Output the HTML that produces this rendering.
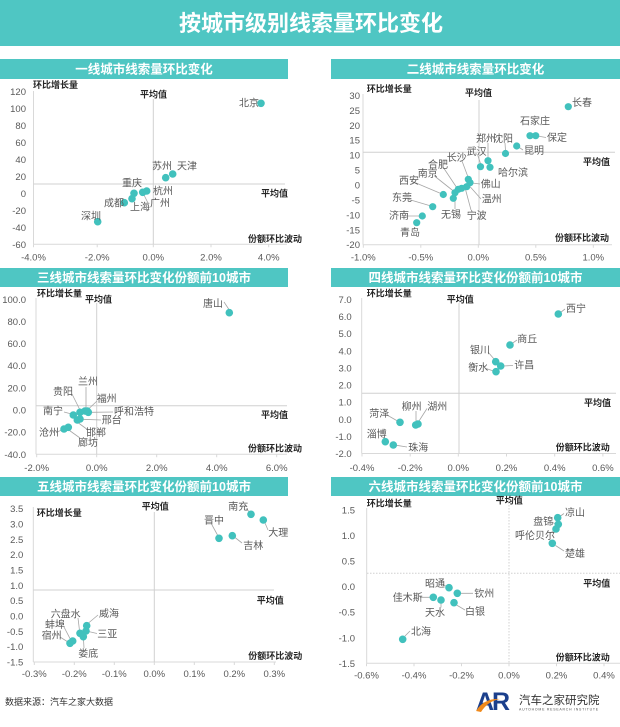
<!DOCTYPE html>
<html><head><meta charset="utf-8"><style>
html,body{margin:0;padding:0;background:#fff;}
svg{display:block;font-family:"Liberation Sans","Noto Sans CJK SC",sans-serif;}
.t{font-size:10px;fill:#595959;}
.tk{font-size:9.5px;fill:#595959;}
.tkr{font-size:9.5px;fill:#595959;text-anchor:end;}
.tkm{font-size:9.5px;fill:#595959;text-anchor:middle;}
.ax{font-size:9px;font-weight:bold;fill:#262626;}
.pt{fill:#41c1bd;}
.ld{stroke:#a6a6a6;stroke-width:0.8;fill:none;}
.al{stroke:#d9d9d9;stroke-width:1;fill:none;}
.av{stroke:#d0d0d0;stroke-width:1;fill:none;}
.bar{fill:#4fc6c3;}
.bt{font-size:12.5px;font-weight:bold;fill:#fff;text-anchor:middle;}
</style></head><body>
<svg width="620" height="727" viewBox="0 0 620 727" xmlns="http://www.w3.org/2000/svg">
<rect x="0" y="0" width="620" height="46" class="bar"/>
<text x="311" y="31" style="font-size:22px;font-weight:bold;fill:#fff;text-anchor:middle;">按城市级别线索量环比变化</text>

<!-- panel bars -->
<rect x="0" y="59" width="288" height="20" class="bar"/>
<text x="144" y="73.5" class="bt">一线城市线索量环比变化</text>
<rect x="331" y="59" width="289" height="20" class="bar"/>
<text x="475.5" y="73.5" class="bt">二线城市线索量环比变化</text>
<rect x="0" y="268" width="288" height="19" class="bar"/>
<text x="144" y="282" class="bt">三线城市线索量环比变化份额前10城市</text>
<rect x="331" y="268" width="289" height="19" class="bar"/>
<text x="475.5" y="282" class="bt">四线城市线索量环比变化份额前10城市</text>
<rect x="0" y="477" width="288" height="19" class="bar"/>
<text x="144" y="491" class="bt">五线城市线索量环比变化份额前10城市</text>
<rect x="331" y="477" width="289" height="19" class="bar"/>
<text x="475.5" y="491" class="bt">六线城市线索量环比变化份额前10城市</text>

<!-- ============ Chart 1 ============ -->
<g>
<line x1="33.5" y1="91" x2="33.5" y2="244.3" class="al"/>
<line x1="33.5" y1="244.3" x2="287" y2="244.3" class="al"/>
<path d="M33.5 244.3v3M97.2 244.3v3M153.3 244.3v3M211 244.3v3M268.7 244.3v3" class="al"/>
<line x1="153.3" y1="99" x2="153.3" y2="244.3" class="av"/>
<line x1="33.5" y1="184" x2="285" y2="184" class="av"/>
<text x="26" y="94.8" class="tkr">120</text>
<text x="26" y="111.8" class="tkr">100</text>
<text x="26" y="128.8" class="tkr">80</text>
<text x="26" y="145.8" class="tkr">60</text>
<text x="26" y="162.8" class="tkr">40</text>
<text x="26" y="179.8" class="tkr">20</text>
<text x="26" y="196.8" class="tkr">0</text>
<text x="26" y="213.8" class="tkr">-20</text>
<text x="26" y="230.8" class="tkr">-40</text>
<text x="26" y="247.8" class="tkr">-60</text>
<text x="33.5" y="260.5" class="tkm">-4.0%</text>
<text x="97.2" y="260.5" class="tkm">-2.0%</text>
<text x="153.3" y="260.5" class="tkm">0.0%</text>
<text x="211" y="260.5" class="tkm">2.0%</text>
<text x="268.7" y="260.5" class="tkm">4.0%</text>
<text x="33" y="88" class="ax">环比增长量</text>
<text x="140" y="97.5" class="ax">平均值</text>
<text x="261" y="196.5" class="ax">平均值</text>
<text x="248" y="242" class="ax">份额环比波动</text>
<path d="M131 200.5 L132 199 M148 203 L143.5 194" class="ld"/>
<circle cx="261" cy="103.3" r="3.8" class="pt"/>
<circle cx="172.7" cy="174" r="3.8" class="pt"/>
<circle cx="165.7" cy="177.7" r="3.8" class="pt"/>
<circle cx="146.7" cy="191" r="3.8" class="pt"/>
<circle cx="142.7" cy="192.3" r="3.8" class="pt"/>
<circle cx="134" cy="193.3" r="3.8" class="pt"/>
<circle cx="132" cy="198.7" r="3.8" class="pt"/>
<circle cx="124.3" cy="202.7" r="3.8" class="pt"/>
<circle cx="97.7" cy="221.7" r="3.8" class="pt"/>
<text x="239" y="106.5" class="t">北京</text>
<text x="177" y="169.5" class="t">天津</text>
<text x="152" y="169.5" class="t">苏州</text>
<text x="153" y="194.5" class="t">杭州</text>
<text x="122" y="186.5" class="t">重庆</text>
<text x="130" y="210.5" class="t">上海</text>
<text x="150" y="206.5" class="t">广州</text>
<text x="104" y="206.5" class="t">成都</text>
<text x="81" y="219.5" class="t">深圳</text>
</g>

<!-- ============ Chart 2 ============ -->
<g>
<line x1="363" y1="94" x2="363" y2="244.7" class="al"/>
<line x1="363" y1="244.7" x2="612" y2="244.7" class="al"/>
<path d="M363.3 244.7v3M420.8 244.7v3M478.3 244.7v3M535.8 244.7v3M593.3 244.7v3" class="al"/>
<line x1="479" y1="100" x2="479" y2="244.7" class="av"/>
<line x1="363" y1="152.3" x2="615" y2="152.3" class="av"/>
<text x="360" y="98.9" class="tkr">30</text>
<text x="360" y="113.8" class="tkr">25</text>
<text x="360" y="128.8" class="tkr">20</text>
<text x="360" y="143.7" class="tkr">15</text>
<text x="360" y="158.6" class="tkr">10</text>
<text x="360" y="173.6" class="tkr">5</text>
<text x="360" y="188.5" class="tkr">0</text>
<text x="360" y="203.4" class="tkr">-5</text>
<text x="360" y="218.4" class="tkr">-10</text>
<text x="360" y="233.3" class="tkr">-15</text>
<text x="360" y="248.2" class="tkr">-20</text>
<text x="363.3" y="260.5" class="tkm">-1.0%</text>
<text x="420.8" y="260.5" class="tkm">-0.5%</text>
<text x="478.3" y="260.5" class="tkm">0.0%</text>
<text x="535.8" y="260.5" class="tkm">0.5%</text>
<text x="593.3" y="260.5" class="tkm">1.0%</text>
<text x="366.7" y="92" class="ax">环比增长量</text>
<text x="465" y="96" class="ax">平均值</text>
<text x="583" y="165" class="ax">平均值</text>
<text x="555" y="241" class="ax">份额环比波动</text>
<path d="M537.5 136 L546 137.5 M517 146 L523 150 M488 143 L488 157.5 M505 143 L505.5 150.5 M478 156 L480.5 163.5 M462 161 L468 177 M443 167 L457 188 M434.5 176 L454 191.5 M416 183 L442 194 M409 199.5 L431 206 M406 216 L419 216 M455 209 L455 196 M471 210 L465.5 189.5 M481 199 L469.5 186 M480 184 L472 183" class="ld"/>
<circle cx="568.3" cy="106.7" r="3.6" class="pt"/>
<circle cx="530" cy="135.7" r="3.6" class="pt"/>
<circle cx="535.7" cy="135.7" r="3.6" class="pt"/>
<circle cx="516.7" cy="146" r="3.6" class="pt"/>
<circle cx="505.5" cy="153.5" r="3.6" class="pt"/>
<circle cx="488" cy="160.7" r="3.6" class="pt"/>
<circle cx="490" cy="167.3" r="3.6" class="pt"/>
<circle cx="480.5" cy="166.7" r="3.6" class="pt"/>
<circle cx="468.3" cy="179.3" r="3.6" class="pt"/>
<circle cx="470" cy="182.7" r="3.6" class="pt"/>
<circle cx="466.7" cy="186.7" r="3.6" class="pt"/>
<circle cx="461.7" cy="188.3" r="3.6" class="pt"/>
<circle cx="458.3" cy="189.3" r="3.6" class="pt"/>
<circle cx="455" cy="192.7" r="3.6" class="pt"/>
<circle cx="453.3" cy="198.3" r="3.6" class="pt"/>
<circle cx="443.3" cy="194.5" r="3.6" class="pt"/>
<circle cx="432.7" cy="206.7" r="3.6" class="pt"/>
<circle cx="422.3" cy="216" r="3.6" class="pt"/>
<circle cx="416.7" cy="222.7" r="3.6" class="pt"/>
<text x="572" y="106.2" class="t">长春</text>
<text x="520" y="124.5" class="t">石家庄</text>
<text x="547" y="141.2" class="t">保定</text>
<text x="524" y="154.2" class="t">昆明</text>
<text x="493" y="141.8" class="t">沈阳</text>
<text x="476" y="141.8" class="t">郑州</text>
<text x="498" y="175.8" class="t">哈尔滨</text>
<text x="466.7" y="155.2" class="t">武汉</text>
<text x="446.7" y="161.2" class="t">长沙</text>
<text x="428" y="167.8" class="t">合肥</text>
<text x="417.7" y="176.8" class="t">南京</text>
<text x="399" y="184.2" class="t">西安</text>
<text x="392" y="201.2" class="t">东莞</text>
<text x="389" y="219.2" class="t">济南</text>
<text x="400" y="236.2" class="t">青岛</text>
<text x="441" y="217.8" class="t">无锡</text>
<text x="466.7" y="219.2" class="t">宁波</text>
<text x="481.7" y="202.5" class="t">温州</text>
<text x="480.7" y="187.5" class="t">佛山</text>
</g>

<!-- ============ Chart 3 ============ -->
<g>
<line x1="36" y1="298" x2="36" y2="454.3" class="al"/>
<line x1="36" y1="454.3" x2="287" y2="454.3" class="al"/>
<path d="M36.7 454.3v3M96.7 454.3v3M156.7 454.3v3M216.7 454.3v3M276.7 454.3v3" class="al"/>
<line x1="96.7" y1="303" x2="96.7" y2="454.3" class="av"/>
<line x1="36" y1="405.7" x2="287" y2="405.7" class="av"/>
<text x="26" y="302.8" class="tkr">100.0</text>
<text x="26" y="324.9" class="tkr">80.0</text>
<text x="26" y="347.1" class="tkr">60.0</text>
<text x="26" y="369.2" class="tkr">40.0</text>
<text x="26" y="391.4" class="tkr">20.0</text>
<text x="26" y="413.5" class="tkr">0.0</text>
<text x="26" y="435.6" class="tkr">-20.0</text>
<text x="26" y="457.8" class="tkr">-40.0</text>
<text x="36.7" y="471" class="tkm">-2.0%</text>
<text x="96.7" y="471" class="tkm">0.0%</text>
<text x="156.7" y="471" class="tkm">2.0%</text>
<text x="216.7" y="471" class="tkm">4.0%</text>
<text x="276.7" y="471" class="tkm">6.0%</text>
<text x="37" y="296.5" class="ax">环比增长量</text>
<text x="85" y="302.5" class="ax">平均值</text>
<text x="261" y="418" class="ax">平均值</text>
<text x="248" y="451.5" class="ax">份额环比波动</text>
<path d="M224 302 L229 309.5 M86 387 L86 408 M72 394 L79.5 409 M97 401 L89 408.5 M113 412 L91 412.3 M64 412 L71.5 414 M101 420 L82.5 419.3 M88 430 L78.5 423 M57 432 L62 430 M80 438 L69.5 430.5" class="ld"/>
<circle cx="229.3" cy="312.7" r="3.8" class="pt"/>
<circle cx="73.3" cy="415" r="3.8" class="pt"/>
<circle cx="80" cy="412.3" r="3.8" class="pt"/>
<circle cx="85" cy="411" r="3.8" class="pt"/>
<circle cx="87.3" cy="411" r="3.8" class="pt"/>
<circle cx="88.3" cy="412.3" r="3.8" class="pt"/>
<circle cx="77.3" cy="420" r="3.8" class="pt"/>
<circle cx="80" cy="419" r="3.8" class="pt"/>
<circle cx="64" cy="429" r="3.8" class="pt"/>
<circle cx="68.3" cy="427.3" r="3.8" class="pt"/>
<text x="203" y="306.8" class="t">唐山</text>
<text x="78" y="385.2" class="t">兰州</text>
<text x="53" y="395.2" class="t">贵阳</text>
<text x="96.7" y="401.8" class="t">福州</text>
<text x="114" y="415.2" class="t">呼和浩特</text>
<text x="43" y="414.5" class="t">南宁</text>
<text x="101.7" y="423.5" class="t">邢台</text>
<text x="39" y="436.2" class="t">沧州</text>
<text x="86" y="436.2" class="t">邯郸</text>
<text x="78" y="445.8" class="t">廊坊</text>
</g>

<!-- ============ Chart 4 ============ -->
<g>
<line x1="361.7" y1="298" x2="361.7" y2="453.5" class="al"/>
<line x1="361.7" y1="453.5" x2="616" y2="453.5" class="al"/>
<path d="M362 453.5v3M410.2 453.5v3M458.3 453.5v3M506.5 453.5v3M554.7 453.5v3M602.9 453.5v3" class="al"/>
<line x1="459" y1="303" x2="459" y2="453.5" class="av"/>
<line x1="362" y1="393.3" x2="616" y2="393.3" class="av"/>
<text x="351.7" y="303" class="tkr">7.0</text>
<text x="351.7" y="320.1" class="tkr">6.0</text>
<text x="351.7" y="337.2" class="tkr">5.0</text>
<text x="351.7" y="354.3" class="tkr">4.0</text>
<text x="351.7" y="371.4" class="tkr">3.0</text>
<text x="351.7" y="388.6" class="tkr">2.0</text>
<text x="351.7" y="405.7" class="tkr">1.0</text>
<text x="351.7" y="422.8" class="tkr">0.0</text>
<text x="351.7" y="439.9" class="tkr">-1.0</text>
<text x="351.7" y="457" class="tkr">-2.0</text>
<text x="362" y="471" class="tkm">-0.4%</text>
<text x="410.2" y="471" class="tkm">-0.2%</text>
<text x="458.3" y="471" class="tkm">0.0%</text>
<text x="506.5" y="471" class="tkm">0.2%</text>
<text x="554.7" y="471" class="tkm">0.4%</text>
<text x="602.9" y="471" class="tkm">0.6%</text>
<text x="366.7" y="296.5" class="ax">环比增长量</text>
<text x="446.7" y="302.5" class="ax">平均值</text>
<text x="584" y="406" class="ax">平均值</text>
<text x="555.7" y="450.5" class="ax">份额环比波动</text>
<path d="M565 309 L560.5 312.5 M517 340 L512 343.5 M488 352 L494 359 M513 365.5 L503.5 366 M486 368.5 L493.5 371 M387 415 L397.5 421 M416 411 L416 421.5 M427 408.5 L419 421 M407 447 L396.5 445.3" class="ld"/>
<circle cx="558.3" cy="314" r="3.8" class="pt"/>
<circle cx="510" cy="345" r="3.8" class="pt"/>
<circle cx="495.7" cy="361.7" r="3.8" class="pt"/>
<circle cx="500.7" cy="366" r="3.8" class="pt"/>
<circle cx="496" cy="371.7" r="3.8" class="pt"/>
<circle cx="400" cy="422.3" r="3.8" class="pt"/>
<circle cx="415.7" cy="425" r="3.8" class="pt"/>
<circle cx="418" cy="424" r="3.8" class="pt"/>
<circle cx="385.3" cy="441.7" r="3.8" class="pt"/>
<circle cx="393.3" cy="445" r="3.8" class="pt"/>
<text x="566" y="311.8" class="t">西宁</text>
<text x="517.3" y="342.5" class="t">商丘</text>
<text x="470" y="353.5" class="t">银川</text>
<text x="514.3" y="368.5" class="t">许昌</text>
<text x="468.3" y="371.2" class="t">衡水</text>
<text x="369.3" y="416.8" class="t">菏泽</text>
<text x="401.7" y="410.2" class="t">柳州</text>
<text x="427.3" y="410.2" class="t">湖州</text>
<text x="366.7" y="437.5" class="t">淄博</text>
<text x="408.3" y="450.8" class="t">珠海</text>
</g>

<!-- ============ Chart 5 ============ -->
<g>
<line x1="33.3" y1="507" x2="33.3" y2="662" class="al"/>
<line x1="33.3" y1="662" x2="276" y2="662" class="al"/>
<path d="M34.3 662v3M74.3 662v3M114.3 662v3M154.3 662v3M194.3 662v3M234.3 662v3M274.3 662v3" class="al"/>
<line x1="154.3" y1="512" x2="154.3" y2="662" class="av"/>
<line x1="33.3" y1="590" x2="274" y2="590" class="av"/>
<text x="23.3" y="512.2" class="tkr">3.5</text>
<text x="23.3" y="527.5" class="tkr">3.0</text>
<text x="23.3" y="542.8" class="tkr">2.5</text>
<text x="23.3" y="558.2" class="tkr">2.0</text>
<text x="23.3" y="573.5" class="tkr">1.5</text>
<text x="23.3" y="588.8" class="tkr">1.0</text>
<text x="23.3" y="604.2" class="tkr">0.5</text>
<text x="23.3" y="619.5" class="tkr">0.0</text>
<text x="23.3" y="634.8" class="tkr">-0.5</text>
<text x="23.3" y="650.2" class="tkr">-1.0</text>
<text x="23.3" y="665.5" class="tkr">-1.5</text>
<text x="34.3" y="677" class="tkm">-0.3%</text>
<text x="74.3" y="677" class="tkm">-0.2%</text>
<text x="114.3" y="677" class="tkm">-0.1%</text>
<text x="154.3" y="677" class="tkm">0.0%</text>
<text x="194.3" y="677" class="tkm">0.1%</text>
<text x="234.3" y="677" class="tkm">0.2%</text>
<text x="274.3" y="677" class="tkm">0.3%</text>
<text x="36.7" y="516" class="ax">环比增长量</text>
<text x="141.7" y="509.5" class="ax">平均值</text>
<text x="256.7" y="603.5" class="ax">平均值</text>
<text x="248.3" y="659" class="ax">份额环比波动</text>
<path d="M246 508.5 L249.5 512 M268 530 L265 523 M212 525 L217.5 535 M242 543 L235 537.5 M98 615 L88.5 623 M97 633.5 L88.5 631.5 M78 618 L79.5 630.5 M64 627 L70.5 639.5 M60 637 L68 642 M84 648 L83.5 639.5" class="ld"/>
<circle cx="251" cy="514.3" r="3.8" class="pt"/>
<circle cx="263.3" cy="520" r="3.8" class="pt"/>
<circle cx="219" cy="538.3" r="3.8" class="pt"/>
<circle cx="232.3" cy="535.7" r="3.8" class="pt"/>
<circle cx="86.7" cy="625.7" r="3.8" class="pt"/>
<circle cx="86" cy="631" r="3.8" class="pt"/>
<circle cx="80" cy="633.3" r="3.8" class="pt"/>
<circle cx="83.3" cy="636.7" r="3.8" class="pt"/>
<circle cx="72.7" cy="641" r="3.8" class="pt"/>
<circle cx="70" cy="643.3" r="3.8" class="pt"/>
<text x="228.3" y="510.2" class="t">南充</text>
<text x="268.3" y="536.2" class="t">大理</text>
<text x="204" y="524.2" class="t">晋中</text>
<text x="243.3" y="549.2" class="t">吉林</text>
<text x="99" y="616.8" class="t">威海</text>
<text x="97.3" y="637.5" class="t">三亚</text>
<text x="50.7" y="617.5" class="t">六盘水</text>
<text x="45" y="627.8" class="t">蚌埠</text>
<text x="41.7" y="639.2" class="t">宿州</text>
<text x="78.3" y="656.8" class="t">娄底</text>
</g>

<!-- ============ Chart 6 ============ -->
<g>
<line x1="366.7" y1="508" x2="366.7" y2="663.3" class="al"/>
<line x1="366.7" y1="663.3" x2="620" y2="663.3" class="al"/>
<path d="M366.5 663.3v3M414 663.3v3M461.5 663.3v3M509 663.3v3M556.5 663.3v3M604 663.3v3" class="al"/>
<line x1="509" y1="505" x2="509" y2="663.3" class="av" stroke-dasharray="1.5,1.5"/>
<line x1="367" y1="573.3" x2="620" y2="573.3" class="av" stroke-dasharray="1.5,1.5"/>
<text x="355" y="513.5" class="tkr">1.5</text>
<text x="355" y="539.1" class="tkr">1.0</text>
<text x="355" y="564.6" class="tkr">0.5</text>
<text x="355" y="590.2" class="tkr">0.0</text>
<text x="355" y="615.7" class="tkr">-0.5</text>
<text x="355" y="641.3" class="tkr">-1.0</text>
<text x="355" y="666.8" class="tkr">-1.5</text>
<text x="366.5" y="678.5" class="tkm">-0.6%</text>
<text x="414" y="678.5" class="tkm">-0.4%</text>
<text x="461.5" y="678.5" class="tkm">-0.2%</text>
<text x="509" y="678.5" class="tkm">0.0%</text>
<text x="556.5" y="678.5" class="tkm">0.2%</text>
<text x="604" y="678.5" class="tkm">0.4%</text>
<text x="366.7" y="506.5" class="ax">环比增长量</text>
<text x="495.7" y="503.5" class="ax">平均值</text>
<text x="583.3" y="586.5" class="ax">平均值</text>
<text x="555.7" y="660.5" class="ax">份额环比波动</text>
<path d="M564 513.5 L560.5 516 M551 522 L555 523.5 M550 533.5 L553.5 530.5 M564 551 L555.5 545.5 M443 584.5 L446.5 586.5 M473 593.3 L460.5 593.3 M420 597.3 L430 597.3 M441 607.5 L441 603.5 M465 610 L456.5 605 M410 631 L405 636" class="ld"/>
<circle cx="557.7" cy="517.7" r="3.8" class="pt"/>
<circle cx="558.3" cy="524.3" r="3.8" class="pt"/>
<circle cx="556" cy="529" r="3.8" class="pt"/>
<circle cx="552.3" cy="543.3" r="3.8" class="pt"/>
<circle cx="449" cy="587.7" r="3.8" class="pt"/>
<circle cx="457.3" cy="593.3" r="3.8" class="pt"/>
<circle cx="433.3" cy="597.3" r="3.8" class="pt"/>
<circle cx="441" cy="600" r="3.8" class="pt"/>
<circle cx="454" cy="602.7" r="3.8" class="pt"/>
<circle cx="402.7" cy="639.3" r="3.8" class="pt"/>
<text x="565" y="516.2" class="t">凉山</text>
<text x="533.3" y="525.2" class="t">盘锦</text>
<text x="515" y="539.2" class="t">呼伦贝尔</text>
<text x="565" y="556.8" class="t">楚雄</text>
<text x="425" y="586.8" class="t">昭通</text>
<text x="474.3" y="596.8" class="t">钦州</text>
<text x="392.7" y="600.8" class="t">佳木斯</text>
<text x="425" y="615.8" class="t">天水</text>
<text x="465" y="615.2" class="t">白银</text>
<text x="411" y="635.2" class="t">北海</text>
</g>

<!-- footer -->
<text x="5" y="705" style="font-size:9px;fill:#333;">数据来源：汽车之家大数据</text>
<text x="476" y="710" style="font-size:25px;font-weight:bold;fill:#1b3f8c;letter-spacing:-2px;">AR</text>
<path d="M476 711 Q484 698 500 699 Q488 701 481 712 Z" fill="#f08a1c"/>
<text x="519" y="704" style="font-size:11.5px;fill:#333;">汽车之家研究院</text>
<text x="519" y="710.5" style="font-size:3.5px;fill:#555;letter-spacing:0.75px;">AUTOHOME RESEARCH INSTITUTE</text>
</svg>
</body></html>
